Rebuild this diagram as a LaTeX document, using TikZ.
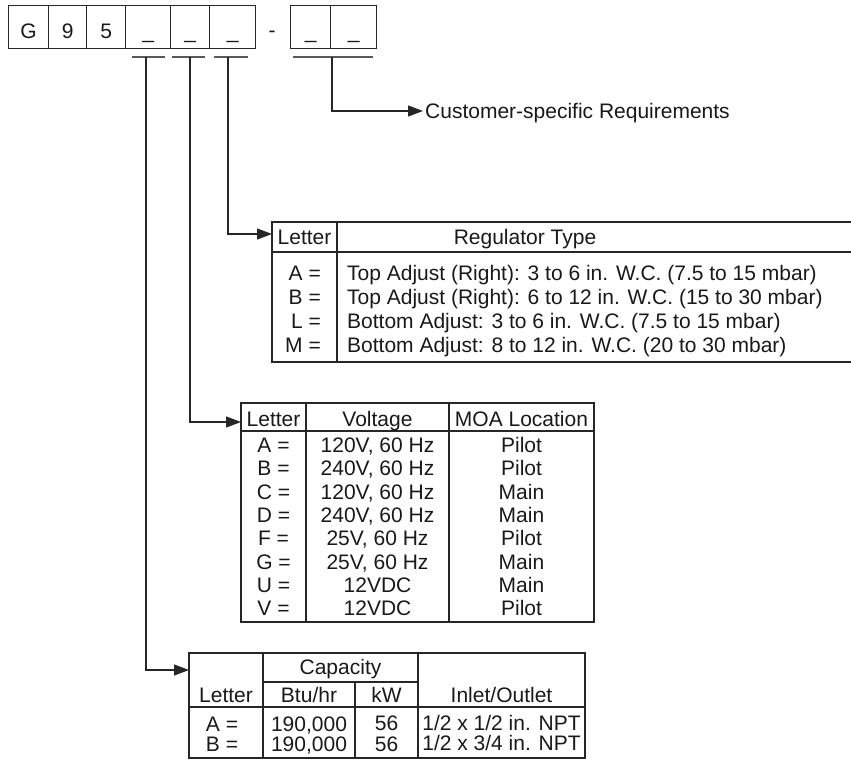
\documentclass[tikz,border=0pt]{standalone}
\usepackage{fontspec}
\setmainfont{Liberation Sans}
\usetikzlibrary{arrows.meta}
\begin{document}
\begin{tikzpicture}[x=1pt,y=-1pt,
  frame/.style={draw=black!85, line width=1.2pt},
  grid/.style={draw=black!85, line width=1.1pt},
  uline/.style={draw=black!65, line width=1.3pt},
  arr/.style={draw=black!85, line width=1.3pt, -{Triangle[length=15pt,width=11pt]}},
  digit/.style={draw=black!85, line width=1.2pt, minimum height=43pt, inner sep=0pt, anchor=north west},
  dtxt/.style={anchor=base, inner sep=0pt, font=\fontsize{21}{25}\selectfont, text=black!90},
  txt/.style={anchor=base, inner sep=0pt, font=\fontsize{21}{25}\selectfont, text=black!90},
]
\useasboundingbox (0,0) rectangle (851,767);

% ---- code boxes
\node[digit, minimum width=40pt] (b1) at (8,5) {};
\node[digit, minimum width=38pt] (b2) at (48,5) {};
\node[digit, minimum width=39pt] (b3) at (86,5) {};
\node[digit, minimum width=45pt] (b4) at (125,5) {};
\node[digit, minimum width=39pt] (b5) at (170,5) {};
\node[digit, minimum width=46pt] (b6) at (209,5) {};
\node[digit, minimum width=40pt] (b7) at (290,5) {};
\node[digit, minimum width=46pt] (b8) at (330,5) {};
\node[dtxt] at ([yshift=-11pt]b1.center) {G};
\node[dtxt] at ([yshift=-11pt]b2.center) {9};
\node[dtxt] at ([yshift=-11pt]b3.center) {5};
\node[dtxt] at ([yshift=-11pt]b4.center) {\_};
\node[dtxt] at ([yshift=-11pt]b5.center) {\_};
\node[dtxt] at ([yshift=-11pt]b6.center) {\_};
\node[dtxt] (dash) at (272,37.5) {-};
\node[dtxt] at ([yshift=-11pt]b7.center) {\_};
\node[dtxt] at ([yshift=-11pt]b8.center) {\_};

% ---- underlines
\coordinate (u1a) at (132,57); \coordinate (u1b) at (165,57);
\coordinate (u2a) at (172,57); \coordinate (u2b) at (205,57);
\coordinate (u3a) at (214,57); \coordinate (u3b) at (248,57);
\coordinate (u4a) at (293,57); \coordinate (u4b) at (373,57);
\draw[uline] (u1a) -- (u1b);
\draw[uline] (u2a) -- (u2b);
\draw[uline] (u3a) -- (u3b);
\draw[uline] (u4a) -- (u4b);
\coordinate (u1) at (146,57);
\coordinate (u2) at (190,57);
\coordinate (u3) at (228,57);
\coordinate (u4) at (332,57);

% ---- customer-specific
\coordinate (custin) at (423,111);
\node[txt, anchor=base west] (cust) at (425,118.5) {Customer-specific Requirements};
\draw[arr] (u4) |- (custin);

% ---- regulator table
\coordinate (regin) at (272,234);
\draw[frame] (852,222) -- (272,222) -- (272,362) -- (852,362);
\draw[grid] (272,252) -- (852,252);
\draw[grid] (337,222) -- (337,362);
\node[txt] at (304.5,244.5) {Letter};
\node[txt] at (525,244.5) {Regulator Type};
\node[txt, anchor=base east] at (321,280.5) {A =};
\node[txt, anchor=base east] at (321,305) {B =};
\node[txt, anchor=base east] at (321,328.5) {L =};
\node[txt, anchor=base east] at (321,352.5) {M =};
\node[txt, anchor=base west] at (347,280.5) {Top Adjust (Right): 3 to 6 in. W.C. (7.5 to 15 mbar)};
\node[txt, anchor=base west] at (347,305) {Top Adjust (Right): 6 to 12 in. W.C. (15 to 30 mbar)};
\node[txt, anchor=base west] at (347,328.5) {Bottom Adjust: 3 to 6 in. W.C. (7.5 to 15 mbar)};
\node[txt, anchor=base west] at (347,352.5) {Bottom Adjust: 8 to 12 in. W.C. (20 to 30 mbar)};
\draw[arr] (u3) |- (regin);

% ---- voltage table
\coordinate (voltin) at (241,422);
\draw[frame] (241,403) rectangle (594,622);
\draw[grid] (241,431) -- (594,431);
\draw[grid] (306,403) -- (306,622) (449,403) -- (449,622);
\node[txt] at (273.5,426) {Letter};
\node[txt] at (377.5,426) {Voltage};
\node[txt] at (521.5,426) {MOA Location};
\foreach \l/\v/\m [count=\i from 0] in {A/{120V, 60 Hz}/Pilot, B/{240V, 60 Hz}/Pilot, C/{120V, 60 Hz}/Main, D/{240V, 60 Hz}/Main, F/{25V, 60 Hz}/Pilot, G/{25V, 60 Hz}/Main, U/12VDC/Main, V/12VDC/Pilot}{
  \node[txt] at (273.5,452.5+23.3*\i) {\l\ =};
  \node[txt] at (377.5,452.5+23.3*\i) {\v};
  \node[txt] at (521.5,452.5+23.3*\i) {\m};
}
\draw[arr] (u2) |- (voltin);

% ---- capacity table
\coordinate (capin) at (189,670);
\draw[frame] (189,653) rectangle (585,758);
\draw[grid] (263,682) -- (418,682);
\draw[grid] (189,707) -- (585,707);
\draw[grid] (263,653) -- (263,758) (418,653) -- (418,758) (355,682) -- (355,758);
\node[txt] at (340.5,674.5) {Capacity};
\node[txt] at (226,702.5) {Letter};
\node[txt] at (309,702.5) {Btu/hr};
\node[txt] at (386.5,702.5) {kW};
\node[txt] at (501.5,702.5) {Inlet/Outlet};
\node[txt] at (222,731.5) {A =};
\node[txt] at (222,751.5) {B =};
\node[txt] at (309,731.5) {190,000};
\node[txt] at (309,751.5) {190,000};
\node[txt] at (386.5,730.5) {56};
\node[txt] at (386.5,751.5) {56};
\node[txt] at (501.5,730.5) {1/2 x 1/2 in. NPT};
\node[txt] at (501.5,750.5) {1/2 x 3/4 in. NPT};
\draw[arr] (u1) |- (capin);
\end{tikzpicture}
\end{document}
